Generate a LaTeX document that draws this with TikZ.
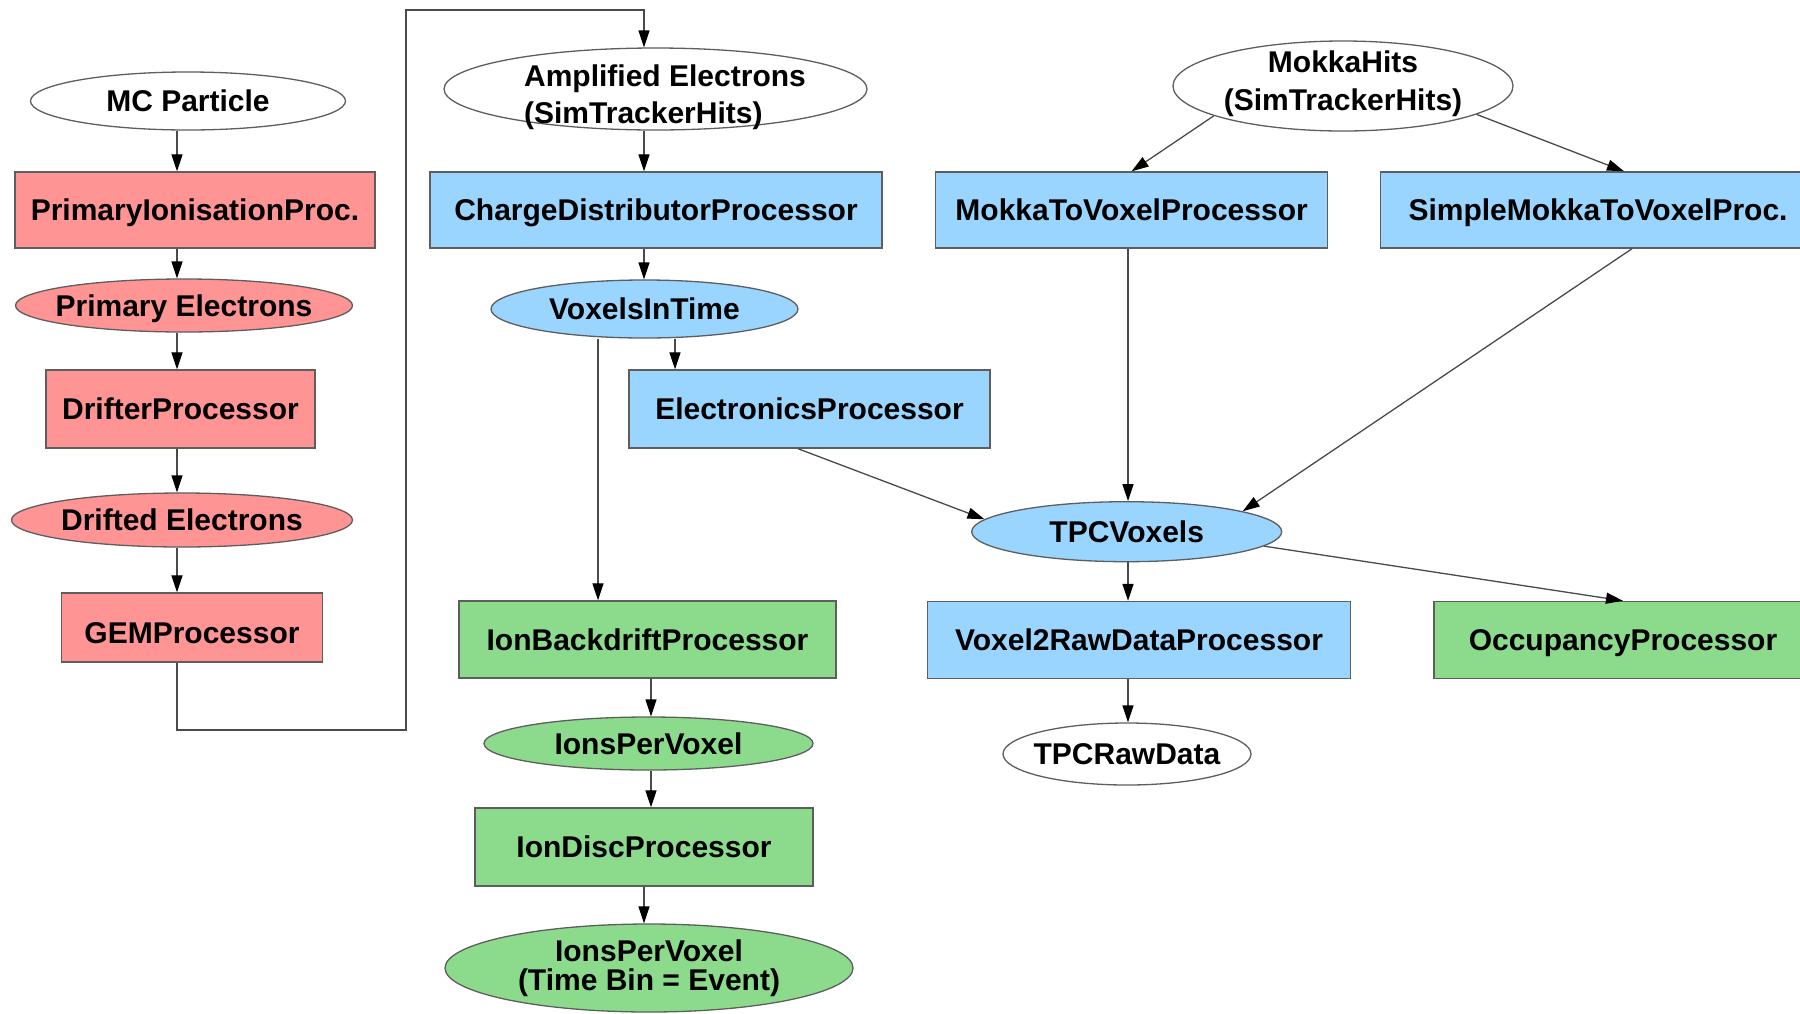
\documentclass[tikz,border=0pt]{standalone}
\usepackage{fontspec}
\setmainfont{Liberation Sans}
\usetikzlibrary{arrows.meta,shapes.geometric}
\definecolor{redfill}{HTML}{FF9494}
\definecolor{bluefill}{HTML}{99D5FF}
\definecolor{greenfill}{HTML}{8CDB8C}
\definecolor{bordergray}{HTML}{5E5E5E}
\definecolor{edgegray}{HTML}{4A4A4A}
\newcommand{\ndtwo}[5]{\raisebox{#2}[0pt][0pt]{\begin{tabular}[b]{@{}#1@{}}#4\\[#3]#5\end{tabular}}}
\begin{document}
\begin{tikzpicture}[x=1pt,y=-1pt,
  every node/.style={font=\bfseries\fontsize{30}{35}\selectfont, text=black, text height=21.5pt, text depth=0pt},
  twoline/.style={text height=0pt, text depth=0pt},
  procbox/.style={rectangle, draw=bordergray, line width=1.4pt, inner sep=0pt},
  dataell/.style={ellipse, draw=bordergray, line width=1.3pt, inner sep=-40pt},
  redn/.style={fill=redfill},
  bluen/.style={fill=bluefill},
  greenn/.style={fill=greenfill},
  whiten/.style={fill=white},
  conn/.style={draw=edgegray, line width=1.3pt, -{Triangle[length=17pt,width=11pt,color=black]}}
]
\path[use as bounding box] (0,0) rectangle (1800,1013);
\clip (0,0) rectangle (1800,1013);

% left column (red)
\node[dataell, whiten, minimum width=315pt, minimum height=58pt] (mc) at (188,101) {MC Particle};
\node[procbox, redn, minimum width=360pt, minimum height=76pt] (pi) at (195,210) {PrimaryIonisationProc.};
\node[dataell, redn, minimum width=337pt, minimum height=53pt] (pe) at (184,305.5) {Primary Electrons};
\node[procbox, redn, minimum width=269pt, minimum height=78pt] (dp) at (180.5,409) {DrifterProcessor};
\node[dataell, redn, minimum width=341pt, minimum height=54pt] (de) at (182,520) {Drifted Electrons};
\node[procbox, redn, minimum width=261pt, minimum height=69pt, text height=31.5pt] (gem) at (192,627.5) {GEMProcessor};

% middle column
\node[dataell, whiten, twoline, minimum width=423pt, minimum height=82pt] (amp) at (655.5,89) {\hspace*{19pt}\ndtwo{l}{-34.3pt}{1.6pt}{Amplified Electrons}{(SimTrackerHits)}};
\node[procbox, bluen, minimum width=452pt, minimum height=76pt] (cdp) at (656,210) {ChargeDistributorProcessor};
\node[dataell, bluen, minimum width=307pt, minimum height=58pt] (vit) at (644.5,309) {VoxelsInTime};
\node[procbox, bluen, minimum width=361pt, minimum height=78pt] (ep) at (809.5,409) {ElectronicsProcessor};
\node[procbox, greenn, minimum width=377pt, minimum height=77pt] (ibp) at (647.5,639.5) {IonBackdriftProcessor};
\node[dataell, greenn, minimum width=329pt, minimum height=53pt] (ipv) at (648.5,743.5) {IonsPerVoxel};
\node[procbox, greenn, minimum width=338pt, minimum height=78pt] (idp) at (644,847) {IonDiscProcessor};
\node[dataell, greenn, twoline, minimum width=408pt, minimum height=88pt] (ipvt) at (649,968) {\ndtwo{c}{-22pt}{-6pt}{IonsPerVoxel}{(Time Bin = Event)}};

% right part
\node[dataell, whiten, twoline, minimum width=340pt, minimum height=90pt] (mh) at (1343,86) {\ndtwo{c}{-24.7pt}{3pt}{MokkaHits}{(SimTrackerHits)}};
\node[procbox, bluen, minimum width=392pt, minimum height=76pt] (m2v) at (1131.6,210) {MokkaToVoxelProcessor};
\node[procbox, bluen, minimum width=435pt, minimum height=76pt] (sm2v) at (1598,210) {SimpleMokkaToVoxelProc.};
\node[dataell, bluen, minimum width=310pt, minimum height=60pt] (tpcv) at (1126.7,531.7) {TPCVoxels};
\node[procbox, bluen, minimum width=423pt, minimum height=77pt] (v2r) at (1139,640) {Voxel2RawDataProcessor};
\node[procbox, greenn, minimum width=378pt, minimum height=77pt] (occ) at (1623,640) {OccupancyProcessor};
\node[dataell, whiten, minimum width=248pt, minimum height=62pt] (raw) at (1127,754) {TPCRawData};

% helper coordinates
\coordinate (xL) at (177,0);
\coordinate (xA) at (644,0);
\coordinate (xVL) at (598,0);
\coordinate (xVR) at (675,0);
\coordinate (xI) at (651,0);
\coordinate (xT) at (1128,0);
\coordinate (xE) at (798,0);
\coordinate (xS) at (1632,0);
\coordinate (xSm) at (1624,0);
\coordinate (loopA) at (406,730);
\coordinate (loopB) at (644,10);

% left column edges
\draw[conn] (mc.south -| xL) -- (pi.north -| xL);
\draw[conn] (pi.south -| xL) -- (pe.north -| xL);
\draw[conn] (pe.south -| xL) -- (dp.north -| xL);
\draw[conn] (dp.south -| xL) -- (de.north -| xL);
\draw[conn] (de.south -| xL) -- (gem.north -| xL);
\draw[conn] (gem.south -| xL) |- (loopA) |- (loopB) -- (amp.north -| xA);

% middle column edges
\draw[conn] (amp.south -| xA) -- (cdp.north -| xA);
\draw[conn] (cdp.south -| xA) -- (vit.north -| xA);
\draw[conn] (vit.south -| xVR) -- (ep.north -| xVR);
\draw[conn] (vit.south -| xVL) -- (ibp.north -| xVL);
\draw[conn] (ibp.south -| xI) -- (ipv.north -| xI);
\draw[conn] (ipv.south -| xI) -- (idp.north -| xI);
\draw[conn] (idp.south -| xA) -- (ipvt.north -| xA);

% right part edges
\draw[conn] (mh.193) -- (m2v.north);
\draw[conn] (mh.-12) -- (sm2v.north -| xSm);
\draw[conn] (m2v.south -| xT) -- (tpcv.north -| xT);
\draw[conn] (sm2v.south -| xS) -- (tpcv.10);
\draw[conn] (ep.south -| xE) -- (tpcv.175);
\draw[conn] (tpcv.south -| xT) -- (v2r.north -| xT);
\draw[conn] (tpcv.-6) -- (occ.north);
\draw[conn] (v2r.south -| xT) -- (raw.north -| xT);
\end{tikzpicture}
\end{document}
